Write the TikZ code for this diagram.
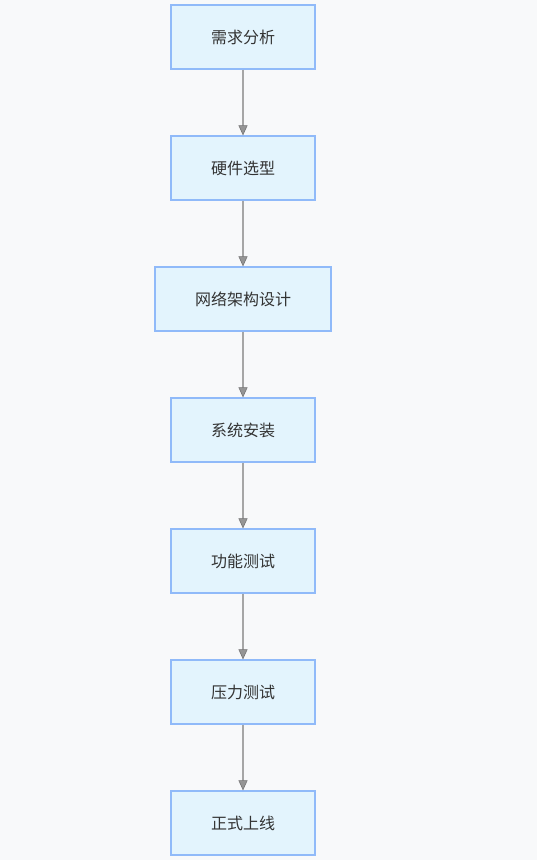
\documentclass[tikz,border=0pt]{standalone}
\usepackage{fontspec}
\usepackage{tikz}
\usetikzlibrary{arrows.meta}
\usepackage{xcolor}
\newfontfamily\cjk{Noto Sans CJK SC}
\definecolor{pagebg}{HTML}{F8F9FA}
\definecolor{stepfill}{HTML}{E3F4FD}
\definecolor{stepline}{HTML}{90BAF9}
\definecolor{flowline}{HTML}{A6A6A6}
\definecolor{steptext}{HTML}{333333}

\begin{document}
\begin{tikzpicture}[x=1pt,y=1pt]
  \tikzset{stepbox/.style={rectangle,fill=stepfill,draw=stepline,line width=1.3pt,minimum width=144pt,minimum height=64pt,inner sep=0pt,text=steptext,font=\cjk\fontsize{16}{19}\selectfont}}
  \tikzset{flowedge/.style={draw=flowline,line width=1.2pt,-{Triangle[width=9pt,length=10pt,fill=flowline!90!black,color=flowline!70!black,line width=0.6pt]}}}
  \fill[pagebg] (0,0) rectangle (537,-860);
  \useasboundingbox (0,0) rectangle (537,-860);
  \node[stepbox] (s0) at (243,-37) {需求分析};
  \node[stepbox] (s1) at (243,-168) {硬件选型};
  \node[stepbox,minimum width=176pt] (s2) at (243,-299) {网络架构设计};
  \node[stepbox] (s3) at (243,-430) {系统安装};
  \node[stepbox] (s4) at (243,-561) {功能测试};
  \node[stepbox] (s5) at (243,-692) {压力测试};
  \node[stepbox] (s6) at (243,-823) {正式上线};
  \draw[flowedge] (s0) -- (s1);
  \draw[flowedge] (s1) -- (s2);
  \draw[flowedge] (s2) -- (s3);
  \draw[flowedge] (s3) -- (s4);
  \draw[flowedge] (s4) -- (s5);
  \draw[flowedge] (s5) -- (s6);
\end{tikzpicture}
\end{document}
